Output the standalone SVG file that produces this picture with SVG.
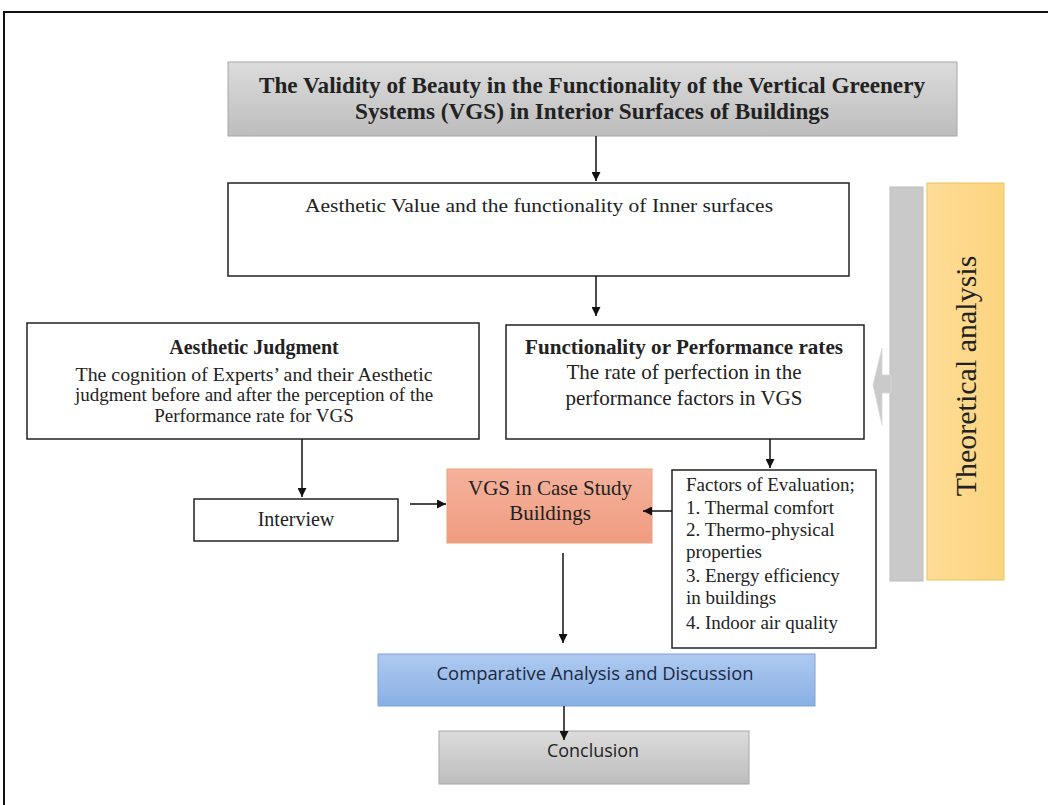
<svg xmlns="http://www.w3.org/2000/svg" width="1048" height="805" viewBox="0 0 1048 805">
<defs>
<linearGradient id="gGray" x1="0" y1="0" x2="0" y2="1"><stop offset="0" stop-color="#dcdcdc"/><stop offset="1" stop-color="#bdbdbd"/></linearGradient>
<linearGradient id="gSalmon" x1="0" y1="0" x2="0" y2="1"><stop offset="0" stop-color="#f5b29c"/><stop offset="1" stop-color="#ef9c80"/></linearGradient>
<linearGradient id="gBlue" x1="0" y1="0" x2="0" y2="1"><stop offset="0" stop-color="#aecaf0"/><stop offset="1" stop-color="#88b0e4"/></linearGradient>
<linearGradient id="gYellow" x1="0" y1="0" x2="1" y2="0"><stop offset="0" stop-color="#fedd97"/><stop offset="1" stop-color="#fcd47f"/></linearGradient>
<marker id="ah" viewBox="0 0 10 10" refX="10" refY="5" markerWidth="9" markerHeight="9" markerUnits="userSpaceOnUse" orient="auto"><path d="M0,0 L10,5 L0,10 Z" fill="#111"/></marker>
<style>
.serif{font-family:"Liberation Serif","Times New Roman",serif;fill:#222;}
.sans{font-family:"Open Sans","Liberation Sans",sans-serif;}
.box{fill:#fff;stroke:#222;stroke-width:1.5;}
.conn{stroke:#111;stroke-width:1.5;fill:none;marker-end:url(#ah);}
</style>
</defs>
<rect width="1048" height="805" fill="#fff"/>
<!-- frame -->
<path d="M4,805 V12 H1048" fill="none" stroke="#111" stroke-width="2"/>

<g id="title">
<rect x="228" y="62" width="729" height="74" fill="url(#gGray)" stroke="#a8a8a8"/>
<text class="serif" x="592" y="93" text-anchor="middle" font-size="24" font-weight="bold" textLength="666" lengthAdjust="spacingAndGlyphs">The Validity of Beauty in the Functionality of the Vertical Greenery</text>
<text class="serif" x="592" y="119" text-anchor="middle" font-size="24" font-weight="bold" textLength="474" lengthAdjust="spacingAndGlyphs">Systems (VGS) in Interior Surfaces of Buildings</text>
</g>

<g id="aesthetic-value">
<rect class="box" x="228" y="183" width="621" height="93"/>
<text class="serif" x="539" y="212" text-anchor="middle" font-size="19" textLength="468" lengthAdjust="spacingAndGlyphs">Aesthetic Value and the functionality of Inner surfaces</text>
</g>

<g id="aesthetic-judgment">
<rect class="box" x="27" y="323" width="452" height="116"/>
<text class="serif" x="254" y="354" text-anchor="middle" font-size="20" font-weight="bold">Aesthetic Judgment</text>
<text class="serif" x="254" y="381" text-anchor="middle" font-size="19" textLength="357" lengthAdjust="spacingAndGlyphs">The cognition of Experts’ and their Aesthetic</text>
<text class="serif" x="254" y="401" text-anchor="middle" font-size="19">judgment before and after the perception of the</text>
<text class="serif" x="254" y="422" text-anchor="middle" font-size="19">Performance rate for VGS</text>
</g>

<g id="functionality">
<rect class="box" x="506" y="325" width="358" height="114"/>
<text class="serif" x="684" y="354" text-anchor="middle" font-size="20" font-weight="bold" textLength="318" lengthAdjust="spacingAndGlyphs">Functionality or Performance rates</text>
<text class="serif" x="684" y="379" text-anchor="middle" font-size="21">The rate of perfection in the</text>
<text class="serif" x="684" y="405" text-anchor="middle" font-size="21">performance factors in VGS</text>
</g>

<g id="interview">
<rect class="box" x="194" y="499" width="204" height="42"/>
<text class="serif" x="296" y="526" text-anchor="middle" font-size="20">Interview</text>
</g>

<g id="vgs-case">
<rect x="447" y="469" width="205" height="74" fill="url(#gSalmon)" stroke="#e6a27a"/>
<text class="serif" x="550" y="495" text-anchor="middle" font-size="21" fill="#2a1a14">VGS in Case Study</text>
<text class="serif" x="550" y="520" text-anchor="middle" font-size="21" fill="#2a1a14">Buildings</text>
</g>

<g id="factors">
<rect class="box" x="672" y="470" width="204" height="178"/>
<text class="serif" font-size="19">
<tspan x="686" y="491">Factors of Evaluation;</tspan>
<tspan x="686" y="514">1. Thermal comfort</tspan>
<tspan x="686" y="536">2. Thermo-physical</tspan>
<tspan x="686" y="558">properties</tspan>
<tspan x="686" y="582">3. Energy efficiency</tspan>
<tspan x="686" y="604">in buildings</tspan>
<tspan x="686" y="629">4. Indoor air quality</tspan>
</text>
</g>

<g id="comparative">
<rect x="378" y="654" width="437" height="52" fill="url(#gBlue)" stroke="#7fa3d4"/>
<text class="sans" x="595" y="680" text-anchor="middle" font-size="19" fill="#1c2840" textLength="317" lengthAdjust="spacingAndGlyphs">Comparative Analysis and Discussion</text>
</g>

<g id="conclusion">
<rect x="439" y="731" width="310" height="53" fill="url(#gGray)" stroke="#a8a8a8"/>
<text class="sans" x="593" y="757" text-anchor="middle" font-size="19" fill="#222" textLength="92" lengthAdjust="spacingAndGlyphs">Conclusion</text>
</g>

<g id="theoretical-bar">
<rect x="890" y="187" width="33" height="394" fill="#c9c9c9" stroke="#bdbdbd"/>
<polygon points="891,375 882,375 882,348 873,385 882,425 882,393 891,393" fill="#cacaca" stroke="#d8d8d8" stroke-width="0.8"/>
</g>

<g id="theoretical-analysis">
<rect x="927" y="183" width="77" height="397" fill="url(#gYellow)" stroke="#e8c45c"/>
<text class="serif" transform="translate(976,376) rotate(-90)" text-anchor="middle" font-size="30" fill="#1a1a1a">Theoretical analysis</text>
</g>

<g id="connectors">
<line class="conn" x1="596" y1="136" x2="596" y2="181"/>
<line class="conn" x1="596" y1="276" x2="596" y2="316"/>
<line class="conn" x1="770" y1="439" x2="770" y2="468"/>
<line class="conn" x1="302" y1="439" x2="302" y2="497"/>
<line class="conn" x1="410" y1="504" x2="446" y2="504"/>
<line class="conn" x1="672" y1="511" x2="643" y2="511"/>
<line class="conn" x1="563" y1="553" x2="563" y2="643"/>
<line class="conn" x1="564" y1="706" x2="564" y2="740"/>
</g>
</svg>
